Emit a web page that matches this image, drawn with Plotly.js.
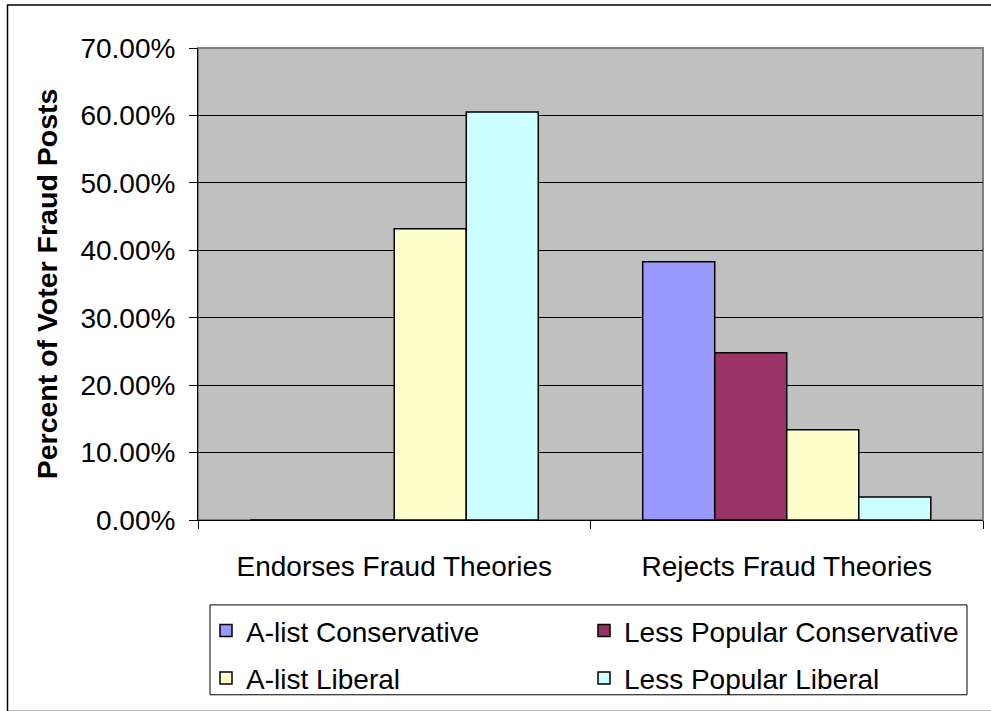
<!DOCTYPE html>
<html>
<head>
<meta charset="utf-8">
<script src="https://cdn.plot.ly/plotly-3.0.1.min.js"></script>
<style>html,body{margin:0;padding:0;background:#fff;}#chart{width:991px;height:711px;}</style>
</head>
<body>
<div id="chart"></div>
<script>
const categories = ["Endorses Fraud Theories", "Rejects Fraud Theories"];
const seriesNames = ["A-list Conservative", "Less Popular Conservative", "A-list Liberal", "Less Popular Liberal"];
const aListConservative = [0, 0.383];
const lessPopularConservative = [0, 0.248];
const aListLiberal = [0.432, 0.134];
const lessPopularLiberal = [0.605, 0.034];
const seriesColors = ["#9999FF", "#993366", "#FFFFCC", "#CCFFFF"];
const seriesValues = [aListConservative, lessPopularConservative, aListLiberal, lessPopularLiberal];
const seriesLegend = ["legend", "legend2", "legend", "legend2"];

const FONT = "Liberation Sans, Arial, Helvetica, sans-serif";
const FS = 28;

const traces = seriesNames.map((name, i) => ({
  type: "bar",
  name: name,
  x: categories,
  y: seriesValues[i],
  legend: seriesLegend[i],
  legendgroup: "g" + i,
  marker: {color: seriesColors[i], line: {color: "#000000", width: 1.5}},
  hoverinfo: "none"
}));

// pixel helpers for paper coordinates
const L = 198, R = 983, T = 48, B = 526;
const px = x => (x - L) / (R - L);
const py = y => (B - y) / (B - T);

const layout = {
  width: 991, height: 711, autosize: false,
  margin: {l: L, r: 991 - R, t: T, b: 711 - B, pad: 0},
  paper_bgcolor: "#ffffff",
  plot_bgcolor: "#C0C0C0",
  font: {family: FONT, color: "#000000", size: FS},
  barmode: "group",
  bargap: 0.266,
  bargroupgap: 0,
  showlegend: true,
  xaxis: {
    type: "category",
    tickson: "boundaries",
    ticks: "outside", ticklen: 8, tickwidth: 1, tickcolor: "#000",
    showgrid: false,
    showline: true, linecolor: "#000", linewidth: 1,
    tickfont: {family: FONT, size: FS, color: "#000"},
    ticklabelstandoff: 21,
    zeroline: false
  },
  yaxis: {
    range: [0, 0.7],
    dtick: 0.1,
    tickformat: ".2%",
    ticks: "outside", ticklen: 8, tickwidth: 1, tickcolor: "#000",
    showgrid: true, gridcolor: "#000000", gridwidth: 1,
    showline: true, linecolor: "#000", linewidth: 1,
    zeroline: false,
    tickfont: {family: FONT, size: FS, color: "#000"},
    ticklabelstandoff: 8,
    title: {text: "<b>Percent of Voter Fraud Posts</b>", font: {family: FONT, size: 28.5, color: "#000"}, standoff: 14}
  },
  legend: {
    x: px(206), y: py(613), xanchor: "left", yanchor: "top",
    orientation: "v", bgcolor: "rgba(0,0,0,0)", borderwidth: 0,
    font: {family: FONT, size: FS, color: "#000"},
    tracegroupgap: 8, traceorder: "grouped"
  },
  legend2: {
    x: px(584), y: py(613), xanchor: "left", yanchor: "top",
    orientation: "v", bgcolor: "rgba(0,0,0,0)", borderwidth: 0,
    font: {family: FONT, size: FS, color: "#000"},
    tracegroupgap: 8, traceorder: "grouped"
  },
  shapes: [
    {type: "rect", xref: "paper", yref: "paper", x0: px(7.5), x1: px(1000), y0: py(720), y1: py(4.5),
     line: {color: "#000", width: 1.5}, fillcolor: "rgba(0,0,0,0)", layer: "below"},
    {type: "rect", xref: "paper", yref: "paper", x0: 0, x1: 1, y0: 0, y1: 1,
     line: {color: "#808080", width: 2}, fillcolor: "rgba(0,0,0,0)", layer: "below"},
    {type: "rect", xref: "paper", yref: "paper", x0: px(210), x1: px(967), y0: py(703), y1: py(612),
     line: {color: "#000", width: 1}, fillcolor: "rgba(0,0,0,0)"}
  ]
};

Plotly.newPlot("chart", traces, layout, {displayModeBar: false, staticPlot: true});
</script>
</body>
</html>
